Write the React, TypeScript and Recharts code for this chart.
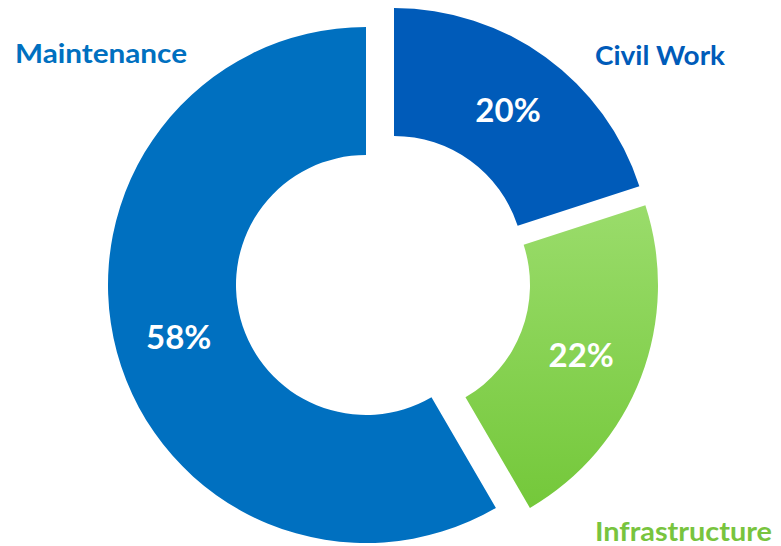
import React from 'react';
import { PieChart, Pie, Cell } from 'recharts';

// slice order: clockwise from 12 o'clock
const categories = ['Civil Work', 'Infrastructure', 'Maintenance'];
const shares = [20, 21.6, 58.4];

const sliceFills = ['#005BB9', 'url(#infraGrad)', '#0070C0'];
const nameColors = ['#005BB9', '#78C43E', '#0070C0'];

// exploded offsets of each slice from the donut centre
const offsets = [
  { dx: 28, dy: -19 },
  { dx: 34, dy: 0 },
  { dx: 0, dy: 0 },
];

// where the category names sit (left x, baseline y, width)
const namePos = [
  { x: 595, y: 65, w: 130 },
  { x: 595, y: 541, w: 177 },
  { x: 15, y: 63, w: 172 },
];

const CX = 366;
const CY = 285;
const RAD = Math.PI / 180;
const FONT = 'Lato, "Open Sans", sans-serif';

const data = categories.map((name, i) => ({ name, value: shares[i] }));

const makeLabel = (own: number) => (props: any) => {
  const { cx, cy, midAngle, innerRadius, outerRadius, percent, index } = props;
  if (index !== own) return null;
  const r = (innerRadius + outerRadius) / 2;
  const x = cx + r * Math.cos(-midAngle * RAD);
  const y = cy + r * Math.sin(-midAngle * RAD);
  const p = namePos[own];
  return (
    <g>
      <text x={x} y={y} fill="#fff" textAnchor="middle" dominantBaseline="central"
        fontFamily={FONT} fontWeight={700} fontSize={33}>
        {`${Math.round(percent * 100)}%`}
      </text>
      <text x={p.x} y={p.y} fill={nameColors[own]} textAnchor="start"
        textLength={p.w} lengthAdjust="spacingAndGlyphs"
        fontFamily={FONT} fontWeight={700} fontSize={27}>
        {categories[own]}
      </text>
    </g>
  );
};

export default function App() {
  return (
    <div style={{ position: 'absolute', left: 0, top: 0, background: '#fff' }}>
      <PieChart width={781} height={546} margin={{ top: 0, right: 0, bottom: 0, left: 0 }}>
        <defs>
          <linearGradient id="infraGrad" x1="0" y1="0" x2="0" y2="1">
            <stop offset="0%" stopColor="#9ADC6B" />
            <stop offset="100%" stopColor="#74C83A" />
          </linearGradient>
        </defs>
        {offsets.map((o, k) => (
          <Pie
            key={categories[k]}
            data={data}
            dataKey="value"
            nameKey="name"
            cx={CX + o.dx}
            cy={CY + o.dy}
            innerRadius={130}
            outerRadius={258}
            startAngle={90}
            endAngle={-270}
            stroke="none"
            labelLine={false}
            label={makeLabel(k)}
            isAnimationActive={false}
          >
            {data.map((d, i) => (
              <Cell key={d.name} fill={i === k ? sliceFills[i] : 'none'} />
            ))}
          </Pie>
        ))}
      </PieChart>
    </div>
  );
}
